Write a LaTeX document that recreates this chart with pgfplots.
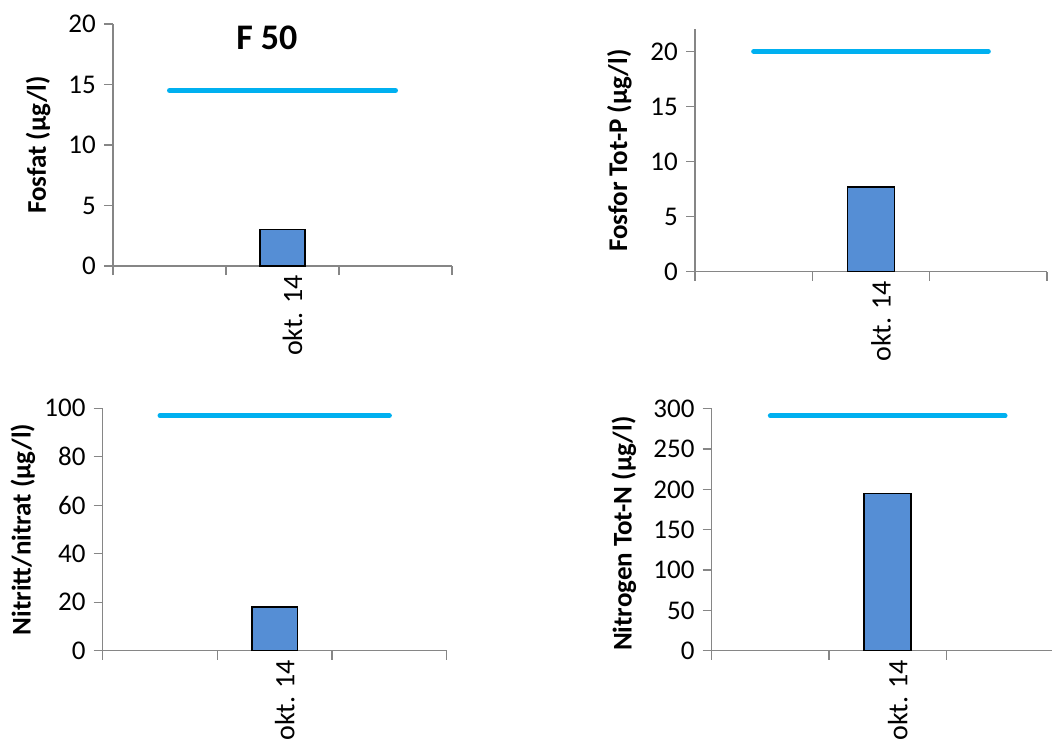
\documentclass[border=0pt]{standalone}
\usepackage{pgfplots}
\pgfplotsset{compat=1.18}
\usepackage{fontspec}
\setmainfont{Carlito}
\definecolor{axgray}{HTML}{868686}
\definecolor{barblue}{HTML}{558ED5}
\definecolor{lineblue}{HTML}{00B0F0}
\pgfplotsset{panel/.style={
  scale only axis,
  xmin=-0.5, xmax=2.5, ymin=0,
  axis x line*=bottom, axis y line*=left,
  axis line style={draw=axgray, line width=1.2pt},
  xtick={1}, xticklabels={okt. 14},
  major x tick style={draw=none},
  minor xtick={-0.5,0.5,1.5,2.5},
  minor tick length=9pt,
  major tick length=9pt,
  tick align=outside,
  every tick/.style={draw=axgray, line width=1.2pt},
  /pgf/number format/assume math mode=true,
  x tick label style={rotate=90, anchor=east, inner sep=0pt, yshift=-10pt, font=\fontsize{28}{33}\selectfont},
  y tick label style={inner sep=0pt, xshift=-8pt, font=\fontsize{27}{32}\selectfont},
  label style={font=\bfseries\fontsize{27}{32}\selectfont},
  clip=false,
}}
\begin{document}
\begin{tikzpicture}
\useasboundingbox (0,0) rectangle (1052pt,740pt);
% Panel 1
\begin{axis}[panel, at={(113pt,474pt)}, anchor=south west,
  width=339pt, height=242pt, ymax=20, ytick={0,5,10,15,20},
  ylabel={Fosfat (µg/l)},
  ylabel style={at={([xshift=-67pt]axis description cs:0,0.5)}, anchor=base},
  title={F 50},
  title style={at={([yshift=-4pt]axis description cs:0.454,0.888)}, anchor=base, font=\bfseries\fontsize{36}{42}\selectfont}]
\addplot[ybar, bar width=0.4, fill=barblue, draw=black, line width=1.5pt] coordinates {(1,3)};
\addplot[lineblue, line width=5pt, line cap=round] coordinates {(0,14.5) (2,14.5)};
\end{axis}
% Panel 2
\begin{axis}[panel, at={(695pt,468.3pt)}, anchor=south west,
  width=352pt, height=242.4pt, ymax=22, ytick={0,5,10,15,20},
  ylabel={Fosfor Tot-P (µg/l)},
  ylabel style={at={([xshift=-68pt]axis description cs:0,0.5)}, anchor=base}]
\addplot[ybar, bar width=0.4, fill=barblue, draw=black, line width=1.5pt] coordinates {(1,7.7)};
\addplot[lineblue, line width=5pt, line cap=round] coordinates {(0,20) (2,20)};
\end{axis}
% Panel 3
\begin{axis}[panel, at={(102.7pt,89.3pt)}, anchor=south west,
  width=344pt, height=242.4pt, ymax=100, ytick={0,20,40,60,80,100},
  ylabel={Nitritt/nitrat (µg/l)},
  ylabel style={at={([xshift=-72pt]axis description cs:0,0.5)}, anchor=base}]
\addplot[ybar, bar width=0.4, fill=barblue, draw=black, line width=1.5pt] coordinates {(1,18)};
\addplot[lineblue, line width=5pt, line cap=round] coordinates {(0,97) (2,97)};
\end{axis}
% Panel 4
\begin{axis}[panel, at={(711.7pt,89.3pt)}, anchor=south west,
  width=352pt, height=242pt, ymax=300, ytick={0,50,100,150,200,250,300},
  ylabel={Nitrogen Tot-N (µg/l)},
  ylabel style={at={([xshift=-80pt,yshift=-4pt]axis description cs:0,0.5)}, anchor=base}]
\addplot[ybar, bar width=0.4, fill=barblue, draw=black, line width=1.5pt] coordinates {(1,195)};
\addplot[lineblue, line width=5pt, line cap=round] coordinates {(0,291) (2,291)};
\end{axis}
\end{tikzpicture}
\end{document}
